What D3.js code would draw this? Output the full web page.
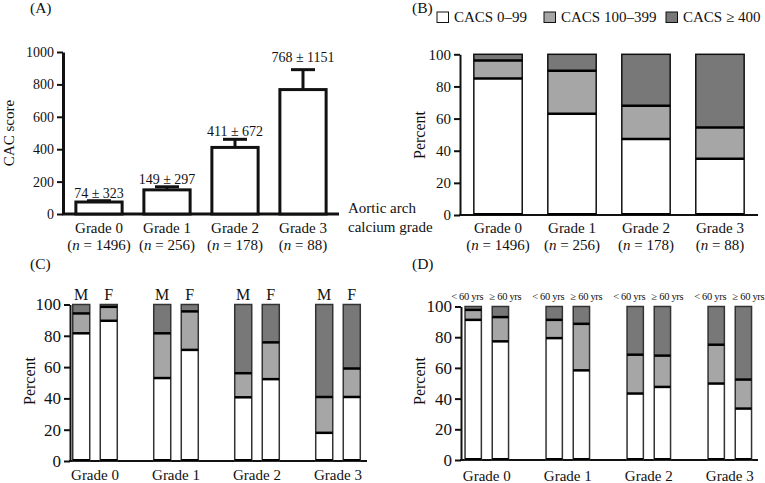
<!DOCTYPE html>
<html><head><meta charset="utf-8">
<script src="https://cdn.jsdelivr.net/npm/d3@7"></script>
<style>
html,body{margin:0;padding:0;background:#fff;}
svg text{font-family:"Liberation Serif","Times New Roman",serif;fill:#111;}
</style></head>
<body>
<svg id="chart" width="765" height="483"></svg>
<script>
// ---------- data ----------
const grades = ["Grade 0", "Grade 1", "Grade 2", "Grade 3"];
const nCounts = [1496, 256, 178, 88];
const cacMean = [74, 149, 411, 768];
const cacSD = [323, 297, 672, 1151];
const cacErrTop = [82, 168, 461, 891];
const yTicksA = [0, 200, 400, 600, 800, 1000];
const yTicksPct = [0, 20, 40, 60, 80, 100];
const legendLabels = ["CACS 0\u201399", "CACS 100\u2013399", "CACS \u2265 400"];

// Panel B (all)
const allLow = [85, 63, 47.3, 35];
const allMid = [11.2, 26.8, 20.7, 19.4];
const allHigh = [3.8, 10.2, 32, 45.6];

// Panel C (sex)
const sexLabels = ["M", "F"];
const maleLow = [81.6, 53, 40.7, 18];
const maleMid = [12.7, 28.6, 15.4, 22.9];
const maleHigh = [5.7, 18.4, 43.9, 59.1];
const femaleLow = [89.6, 71, 52.3, 40.9];
const femaleMid = [8.9, 24.6, 23.5, 18.2];
const femaleHigh = [1.5, 4.4, 24.2, 40.9];

// Panel D (age)
const ageLabels = ["< 60 yrs", "\u2265 60 yrs"];
const youngLow = [91.3, 79.4, 43.3, 49.8];
const youngMid = [6.5, 11.9, 25.3, 25.3];
const youngHigh = [2.2, 8.7, 31.4, 24.9];
const oldLow = [77.3, 58.4, 47.6, 33.5];
const oldMid = [15.8, 30.3, 20.4, 18.9];
const oldHigh = [6.9, 11.3, 32, 47.6];

// ---------- styles ----------
const segColors = ["#ffffff", "#a6a6a6", "#787878"];
const svg = d3.select("#chart");

function nLabel(sel, n) {
  sel.append("tspan").text("(");
  sel.append("tspan").attr("font-style", "italic").text("n");
  sel.append("tspan").text(" = " + n + ")");
}

function leftAxis(g, yScale, x, fontSize, sw) {
  const ax = g.append("g").attr("transform", `translate(${x},0)`)
    .call(d3.axisLeft(yScale).tickValues(yScale.domain()[1] > 100 ? yTicksA : yTicksPct)
      .tickFormat(d3.format("d"))
      .tickSize(6).tickPadding(3).tickSizeOuter(0));
  ax.select(".domain").attr("stroke", "#111").attr("stroke-width", sw);
  ax.selectAll(".tick line").attr("stroke", "#111").attr("stroke-width", 2);
  ax.selectAll(".tick text").attr("font-size", fontSize).attr("font-family", "Liberation Serif").attr("fill", "#111");
  return ax;
}

function stackedBar(g, x0, w, yScale, vals, outline) {
  let cum = 0;
  vals.forEach((v, i) => {
    g.append("rect").attr("x", x0).attr("width", w)
      .attr("y", yScale(cum + v)).attr("height", yScale(cum) - yScale(cum + v))
      .attr("fill", segColors[i]);
    cum += v;
  });
  g.append("rect").attr("x", x0).attr("width", w)
    .attr("y", yScale(cum)).attr("height", yScale(0) - yScale(cum))
    .attr("fill", "none").attr("stroke", outline).attr("stroke-width", 1.5);
  let c = 0;
  vals.slice(0, 2).forEach(v => {
    c += v;
    g.append("line").attr("x1", x0).attr("x2", x0 + w)
      .attr("y1", yScale(c)).attr("y2", yScale(c))
      .attr("stroke", "#000").attr("stroke-width", 2.5);
  });
  g.append("line").attr("x1", x0).attr("x2", x0 + w)
    .attr("y1", yScale(0) - 1).attr("y2", yScale(0) - 1)
    .attr("stroke", "#000").attr("stroke-width", 2);
}

// ---------- Panel A ----------
{
  const g = svg.append("g");
  const y = d3.scaleLinear().domain([0, 1000]).range([214, 52]);
  const x = d3.scaleBand().domain(grades).range([65, 337]).paddingInner(0.32).paddingOuter(0.16);
  g.append("text").attr("x", 30).attr("y", 13).attr("font-size", 15.5).text("(A)");
  leftAxis(g, y, 63, 14, 3);
  g.append("line").attr("x1", 62).attr("x2", 339).attr("y1", y(0)).attr("y2", y(0))
    .attr("stroke", "#111").attr("stroke-width", 3);
  const labelGap = [3, 3, 3, 8];
  grades.forEach((gr, i) => {
    const cx = x(gr) + x.bandwidth() / 2;
    g.append("line").attr("x1", cx).attr("x2", cx).attr("y1", y(cacMean[i])).attr("y2", y(cacErrTop[i]))
      .attr("stroke", "#111").attr("stroke-width", 3);
    g.append("line").attr("x1", cx - 12).attr("x2", cx + 12).attr("y1", y(cacErrTop[i])).attr("y2", y(cacErrTop[i]))
      .attr("stroke", "#111").attr("stroke-width", 3);
    g.append("rect").attr("x", x(gr)).attr("width", x.bandwidth())
      .attr("y", y(cacMean[i])).attr("height", y(0) - y(cacMean[i]))
      .attr("fill", "#fff").attr("stroke", "#111").attr("stroke-width", 3);
    g.append("text").attr("x", cx).attr("y", y(cacErrTop[i]) - labelGap[i])
      .attr("text-anchor", "middle").attr("font-size", 14)
      .text(cacMean[i] + " \u00b1 " + cacSD[i]);
    g.append("text").attr("x", cx).attr("y", 233).attr("text-anchor", "middle").attr("font-size", 15).text(gr);
    g.append("text").attr("x", cx).attr("y", 250).attr("text-anchor", "middle").attr("font-size", 15).call(nLabel, nCounts[i]);
  });
  g.append("text").attr("x", 348).attr("y", 213).attr("font-size", 15).text("Aortic arch");
  g.append("text").attr("x", 348).attr("y", 232).attr("font-size", 15).text("calcium grade");
  g.append("text").attr("transform", "translate(14,133) rotate(-90)").attr("text-anchor", "middle")
    .attr("font-size", 15).text("CAC score");
}

// ---------- Panel B ----------
{
  const g = svg.append("g");
  const y = d3.scaleLinear().domain([0, 100]).range([215, 54.3]);
  const x = d3.scaleBand().domain(grades).range([460, 758]).paddingInner(0.346).paddingOuter(0.187);
  g.append("text").attr("x", 412).attr("y", 13).attr("font-size", 15.5).text("(B)");
  const legX = [437, 544, 666];
  legendLabels.forEach((lab, i) => {
    g.append("rect").attr("x", legX[i]).attr("y", 12).attr("width", 11.5).attr("height", 10.5)
      .attr("fill", segColors[i]).attr("stroke", "#111").attr("stroke-width", 1);
    g.append("text").attr("x", legX[i] + 17).attr("y", 22).attr("font-size", 15).text(lab);
  });
  leftAxis(g, y, 460, 15, 2);
  g.append("line").attr("x1", 459).attr("x2", 758).attr("y1", y(0)).attr("y2", y(0))
    .attr("stroke", "#111").attr("stroke-width", 2);
  grades.forEach((gr, i) => {
    stackedBar(g, x(gr), x.bandwidth(), y, [allLow[i], allMid[i], allHigh[i]], "#111");
    const cx = x(gr) + x.bandwidth() / 2;
    g.append("text").attr("x", cx).attr("y", 233).attr("text-anchor", "middle").attr("font-size", 15).text(gr);
    g.append("text").attr("x", cx).attr("y", 250).attr("text-anchor", "middle").attr("font-size", 15).call(nLabel, nCounts[i]);
  });
  g.append("text").attr("transform", "translate(425,135) rotate(-90)").attr("text-anchor", "middle")
    .attr("font-size", 16).text("Percent");
}

// ---------- Panel C ----------
{
  const g = svg.append("g");
  const y = d3.scaleLinear().domain([0, 100]).range([461, 304.5]);
  const x = d3.scaleBand().domain(grades).range([69, 364]).paddingInner(0.45).paddingOuter(0.046);
  const xs = d3.scaleBand().domain(sexLabels).range([0, x.bandwidth()]).paddingInner(0.382).paddingOuter(0);
  g.append("text").attr("x", 30).attr("y", 269).attr("font-size", 15.5).text("(C)");
  leftAxis(g, y, 70, 17, 2);
  g.append("line").attr("x1", 69).attr("x2", 367).attr("y1", y(0)).attr("y2", y(0))
    .attr("stroke", "#111").attr("stroke-width", 2);
  const groups = [[maleLow, maleMid, maleHigh], [femaleLow, femaleMid, femaleHigh]];
  grades.forEach((gr, i) => {
    sexLabels.forEach((s, j) => {
      const arr = groups[j];
      const bx = x(gr) + xs(s);
      stackedBar(g, bx, xs.bandwidth(), y, [arr[0][i], arr[1][i], arr[2][i]], "#333");
      g.append("text").attr("x", bx + xs.bandwidth() / 2).attr("y", 300).attr("text-anchor", "middle")
        .attr("font-size", 16).text(s);
    });
    g.append("text").attr("x", x(gr) + x.bandwidth() / 2).attr("y", 480).attr("text-anchor", "middle")
      .attr("font-size", 15).text(gr);
  });
  g.append("text").attr("transform", "translate(35,381) rotate(-90)").attr("text-anchor", "middle")
    .attr("font-size", 16).text("Percent");
}

// ---------- Panel D ----------
{
  const g = svg.append("g");
  const y = d3.scaleLinear().domain([0, 100]).range([460, 306.5]);
  const x = d3.scaleBand().domain(grades).range([461, 755.6]).paddingInner(0.463).paddingOuter(0.05);
  const xs = d3.scaleBand().domain(ageLabels).range([0, x.bandwidth()]).paddingInner(0.4).paddingOuter(0);
  g.append("text").attr("x", 412).attr("y", 269).attr("font-size", 15.5).text("(D)");
  leftAxis(g, y, 461, 17, 2);
  g.append("line").attr("x1", 460).attr("x2", 758).attr("y1", y(0)).attr("y2", y(0))
    .attr("stroke", "#111").attr("stroke-width", 2);
  const groups = [[youngLow, youngMid, youngHigh], [oldLow, oldMid, oldHigh]];
  const labelShift = [-6, 5];
  grades.forEach((gr, i) => {
    ageLabels.forEach((a, j) => {
      const arr = groups[j];
      const bx = x(gr) + xs(a);
      stackedBar(g, bx, xs.bandwidth(), y, [arr[0][i], arr[1][i], arr[2][i]], "#333");
      g.append("text").attr("x", bx + xs.bandwidth() / 2 + labelShift[j]).attr("y", 300).attr("text-anchor", "middle")
        .attr("font-size", 10.5).attr("letter-spacing", -0.3).text(a);
    });
    g.append("text").attr("x", x(gr) + x.bandwidth() / 2).attr("y", 481).attr("text-anchor", "middle")
      .attr("font-size", 15).text(gr);
  });
  g.append("text").attr("transform", "translate(425,381) rotate(-90)").attr("text-anchor", "middle")
    .attr("font-size", 16).text("Percent");
}
</script>
</body></html>
